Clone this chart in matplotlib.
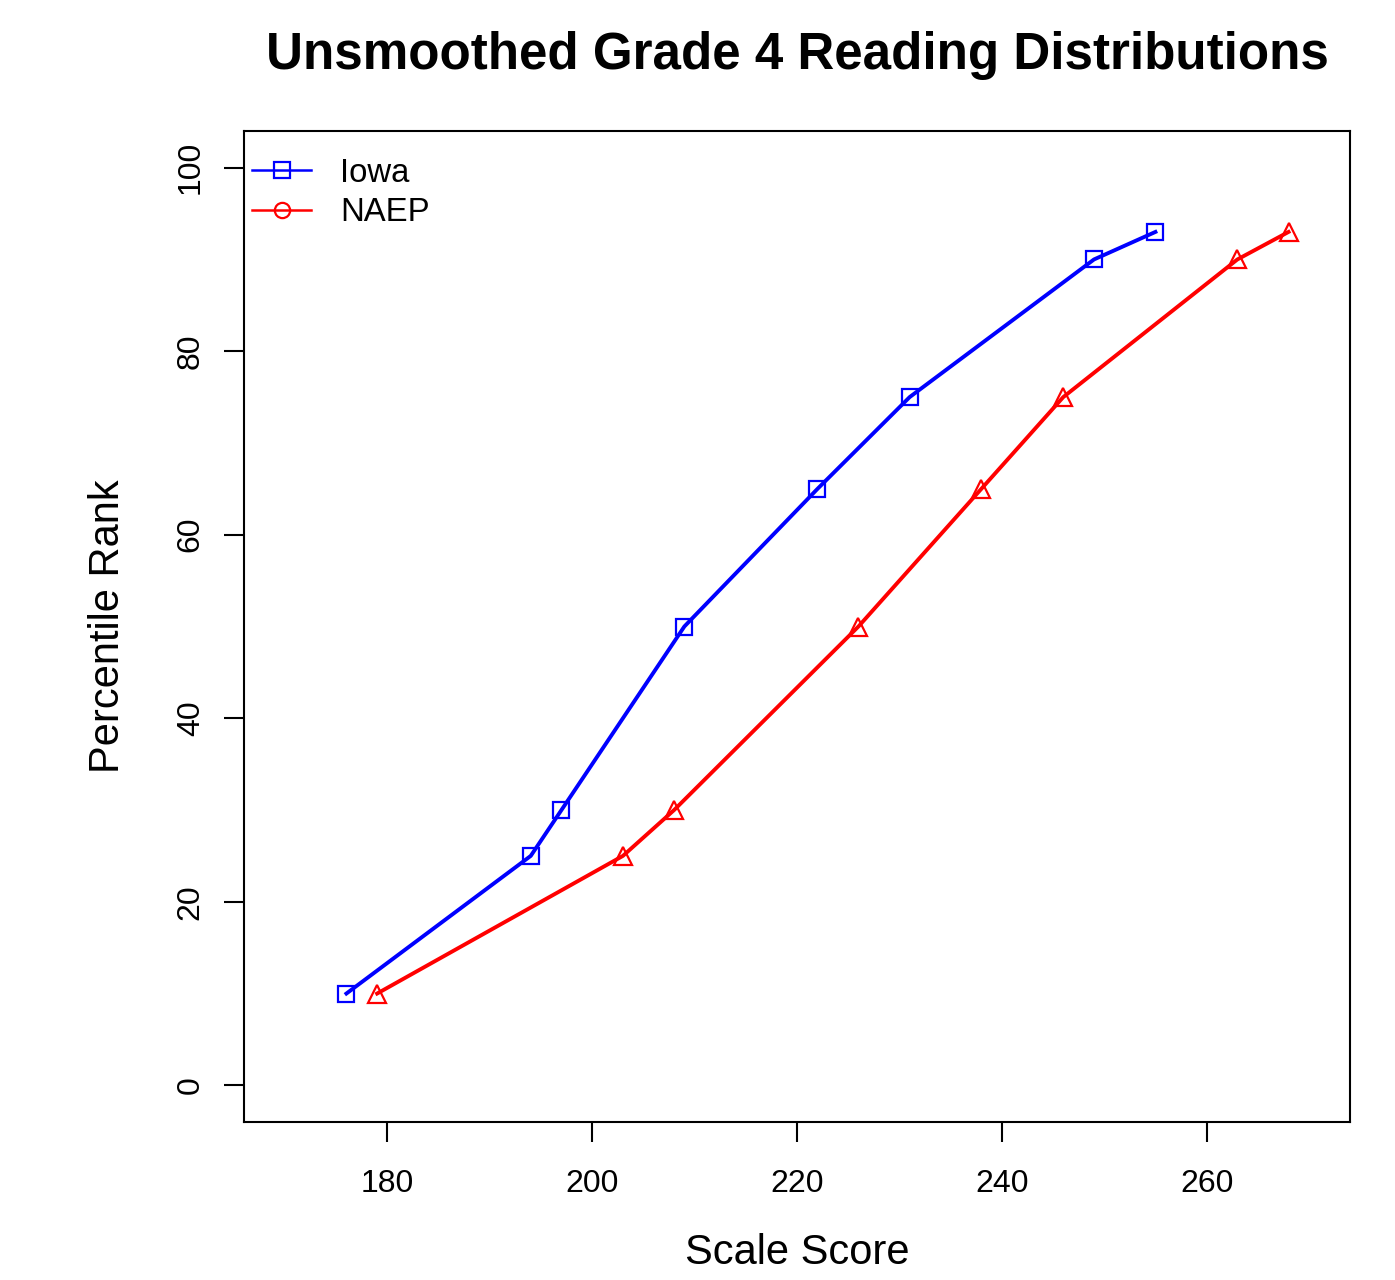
import matplotlib
matplotlib.use("Agg")
import matplotlib.pyplot as plt
from matplotlib.lines import Line2D

plt.rcParams['font.family'] = ['Liberation Sans', 'DejaVu Sans']

# данные
iowa_x = [176, 194, 197, 209, 222, 231, 249, 255]
iowa_y = [10, 25, 30, 50, 65, 75, 90, 93]
naep_x = [179, 203, 208, 226, 238, 246, 263, 268]
naep_y = [10, 25, 30, 50, 65, 75, 90, 93]
x_ticks = [180, 200, 220, 240, 260]
y_ticks = [0, 20, 40, 60, 80, 100]

W, H = 1395, 1280
fig = plt.figure(figsize=(W / 100, H / 100), dpi=100)
ax = fig.add_axes([244 / W, 1 - 1122 / H, (1350 - 244) / W, (1122 - 131) / H])

ax.plot(iowa_x, iowa_y, color='blue', lw=2.8, marker='s', ms=11.5,
        mfc='none', mec='blue', mew=1.6)
ax.plot(naep_x, naep_y, color='red', lw=2.8, marker='^', ms=13.5,
        mfc='none', mec='red', mew=1.6)

# пределы как в R (4% запас)
ax.set_xlim(170 - 4, 270 + 4)
ax.set_ylim(0 - 4, 100 + 4)
ax.set_xticks(x_ticks)
ax.set_yticks(y_ticks)
ax.tick_params(direction='out', length=14.5, width=1.5, labelsize=23)
ax.tick_params(axis='x', pad=19)
ax.tick_params(axis='y', pad=13)
for lab in ax.get_yticklabels():
    lab.set_rotation(90)
    lab.set_va('center')
for s in ax.spines.values():
    s.set_linewidth(1.5)

fig.text(797 / W, 1 - 55 / H, "Unsmoothed Grade 4 Reading Distributions",
         ha='center', va='center', fontsize=36.8, fontweight='bold')
fig.text(797 / W, 1 - 1253 / H, "Scale Score", ha='center', va='center',
         fontsize=30)
fig.text(108 / W, 1 - 626 / H, "Percentile Rank", ha='center', va='center',
         fontsize=30, rotation=90)

handles = [Line2D([], [], color='blue', lw=1.8, marker='s', ms=11,
                  mfc='none', mew=1.6),
           Line2D([], [], color='red', lw=1.8, marker='o', ms=11,
                  mfc='none', mew=1.6)]
ax.legend(handles, ["Iowa", "NAEP"], loc='upper left', frameon=False,
          fontsize=23.7, handlelength=1.8, borderpad=0, borderaxespad=0,
          bbox_to_anchor=(8 / 1106, 1 - 27 / 991), labelspacing=0.25,
          handletextpad=0.88)

fig.savefig("out.png", dpi=100, facecolor="white")
